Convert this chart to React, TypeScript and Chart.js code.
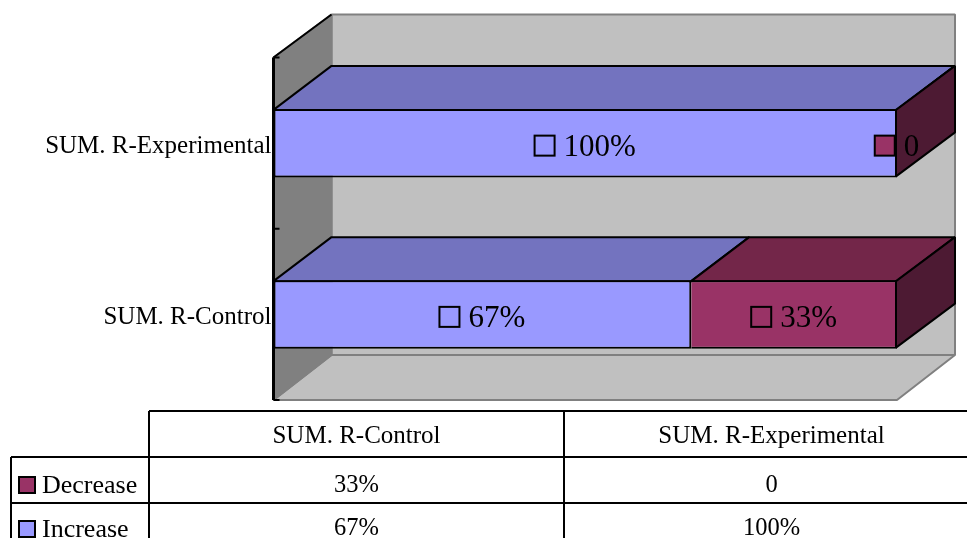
import React, { useEffect, useRef } from "react";
import { Chart, registerables } from "chart.js";

Chart.register(...registerables);

// Categories run bottom to top on the chart and left to right in the data table.
const categories = ["SUM. R-Control", "SUM. R-Experimental"];
const seriesNames = ["Increase", "Decrease"];
const increaseValues = [0.67, 1];
const decreaseValues = [0.33, 0];

const SERIF = '"Liberation Serif", "Times New Roman", serif';
const INCREASE_COLOR = "#9999FF";
const DECREASE_COLOR = "#993366";
const INCREASE_TOP = "#7373BF";
const DECREASE_TOP = "#732649";
const DECREASE_SIDE = "#4D1A33";

// Projection of the box depth, in pixels.
const DEPTH_X = 58;
const DEPTH_Y = 44;

const formatValue = (v: number) => (v === 0 ? "0" : `${Math.round(v * 100)}%`);

function polygon(ctx: CanvasRenderingContext2D, pts: number[][], fill: string, stroke: string, width: number) {
  ctx.beginPath();
  pts.forEach(([x, y], i) => (i ? ctx.lineTo(x, y) : ctx.moveTo(x, y)));
  ctx.closePath();
  ctx.fillStyle = fill;
  ctx.fill();
  ctx.strokeStyle = stroke;
  ctx.lineWidth = width;
  ctx.lineJoin = "bevel";
  ctx.stroke();
}

function line(ctx: CanvasRenderingContext2D, x1: number, y1: number, x2: number, y2: number, color = "#000", width = 2) {
  ctx.beginPath();
  ctx.moveTo(x1, y1);
  ctx.lineTo(x2, y2);
  ctx.strokeStyle = color;
  ctx.lineWidth = width;
  ctx.stroke();
}

// Back wall, side wall and floor, plus the top and end faces of each bar.
const boxPlugin = {
  id: "box3d",
  beforeDatasetsDraw(chart: any) {
    const { ctx, chartArea: a } = chart;
    const wallTop = a.top - DEPTH_Y + 1;
    const wallBottom = a.bottom - DEPTH_Y - 1;
    ctx.save();
    polygon(ctx, [[a.left + DEPTH_X, wallTop], [a.right + DEPTH_X, wallTop], [a.right + DEPTH_X, wallBottom], [a.left + DEPTH_X, wallBottom]], "#C0C0C0", "#808080", 2);
    polygon(ctx, [[a.left, a.bottom], [a.right, a.bottom], [a.right + DEPTH_X, wallBottom], [a.left + DEPTH_X, wallBottom]], "#C0C0C0", "#808080", 2);
    polygon(ctx, [[a.left, a.top], [a.left + DEPTH_X, wallTop], [a.left + DEPTH_X, wallBottom], [a.left, a.bottom]], "#808080", "#808080", 2);
    line(ctx, a.left, a.top, a.left + DEPTH_X, wallTop);
    line(ctx, a.left, a.top, a.left, a.bottom, "#000", 3);
    const yScale = chart.scales.y;
    const band = (a.bottom - a.top) / categories.length;
    for (let i = 0; i <= categories.length; i++) {
      const y = yScale.top + band * i;
      line(ctx, a.left, y, a.left + 6, y, "#000", 2);
    }

    const tops = [INCREASE_TOP, DECREASE_TOP];
    const lastDataset = chart.data.datasets.length - 1;
    chart.data.datasets.forEach((_: any, d: number) => {
      chart.getDatasetMeta(d).data.forEach((bar: any) => {
        const { x, y, base, height } = bar.getProps(["x", "y", "base", "height"], true);
        const t = y - height / 2 + 1;
        const b = y + height / 2 - 1;
        polygon(ctx, [[base, t], [x, t], [x + DEPTH_X, t - DEPTH_Y], [base + DEPTH_X, t - DEPTH_Y]], tops[d], "#000", 2);
        if (d === lastDataset) {
          polygon(ctx, [[x - 1, t], [x + DEPTH_X, t - DEPTH_Y], [x + DEPTH_X, b - DEPTH_Y], [x - 1, b]], DECREASE_SIDE, "#000", 2);
        }
      });
    });
    ctx.restore();
  },
  // Value labels, each with its series key in front of it.
  afterDatasetsDraw(chart: any) {
    const { ctx } = chart;
    const fills = [INCREASE_COLOR, DECREASE_COLOR];
    ctx.save();
    ctx.font = `31px ${SERIF}`;
    ctx.textBaseline = "alphabetic";
    ctx.textAlign = "left";
    chart.data.datasets.forEach((ds: any, d: number) => {
      chart.getDatasetMeta(d).data.forEach((bar: any, i: number) => {
        const { x, y, base } = bar.getProps(["x", "y", "base"], true);
        const text = formatValue(ds.data[i]);
        const w = ctx.measureText(text).width;
        const total = 20 + 9 + w;
        const left = (x + base) / 2 - total / 2;
        ctx.fillStyle = fills[d];
        ctx.strokeStyle = "#000";
        ctx.lineWidth = 2;
        ctx.fillRect(left, y - 7.5, 20, 20);
        ctx.strokeRect(left, y - 7.5, 20, 20);
        ctx.fillStyle = "#000";
        ctx.fillText(text, left + 29, y + 12.5);
      });
    });
    ctx.restore();
  },
  // Data table under the plot.
  afterDraw(chart: any) {
    const { ctx, width, height } = chart;
    const col0 = 11;
    const col1 = 149;
    const col2 = 564;
    const colWidth = col2 - col1;
    const rowTop = 411;
    const row1 = 457;
    const row2 = 503;
    ctx.save();
    line(ctx, col1, rowTop, width, rowTop);
    line(ctx, col0, row1, width, row1);
    line(ctx, col0, row2, width, row2);
    line(ctx, col0, row1, col0, height);
    line(ctx, col1, rowTop, col1, height);
    line(ctx, col2, rowTop, col2, height);

    ctx.fillStyle = "#000";
    ctx.textBaseline = "alphabetic";
    ctx.textAlign = "center";
    categories.forEach((name, i) => {
      const cx = col1 + colWidth * (i + 0.5);
      ctx.font = `25px ${SERIF}`;
      ctx.fillText(name, cx, 443);
      ctx.font = `24.5px ${SERIF}`;
      ctx.fillText(formatValue(decreaseValues[i]), cx, 492);
      ctx.fillText(formatValue(increaseValues[i]), cx, 535);
    });

    ctx.textAlign = "left";
    ctx.font = `26px ${SERIF}`;
    const rows = [
      { name: seriesNames[1], fill: DECREASE_COLOR, base: 493 },
      { name: seriesNames[0], fill: INCREASE_COLOR, base: 537 },
    ];
    rows.forEach((r) => {
      ctx.fillStyle = r.fill;
      ctx.strokeStyle = "#000";
      ctx.lineWidth = 2;
      ctx.fillRect(19, r.base - 16, 16, 16);
      ctx.strokeRect(19, r.base - 16, 16, 16);
      ctx.fillStyle = "#000";
      ctx.fillText(r.name, 42, r.base);
    });
    ctx.restore();
  },
};

export default function App() {
  const ref = useRef<HTMLCanvasElement>(null);

  useEffect(() => {
    const chart = new Chart(ref.current as HTMLCanvasElement, {
      type: "bar",
      data: {
        labels: categories,
        datasets: [
          {
            label: seriesNames[0],
            data: increaseValues,
            backgroundColor: INCREASE_COLOR,
            borderWidth: { left: 2, top: 2, bottom: 2, right: 2 },
          },
          {
            label: seriesNames[1],
            data: decreaseValues,
            backgroundColor: DECREASE_COLOR,
            borderWidth: { left: 0, top: 2, bottom: 2, right: 2 },
          },
        ],
      },
      plugins: [boxPlugin],
      options: {
        indexAxis: "y",
        responsive: false,
        animation: false,
        layout: { padding: { top: 57.5, bottom: 138, right: 70, left: 0 } },
        plugins: { legend: { display: false }, tooltip: { enabled: false }, title: { display: false } },
        elements: { bar: { borderColor: "#000", borderSkipped: false, inflateAmount: 0 } },
        datasets: { bar: { barPercentage: 1, categoryPercentage: 0.4 } },
        scales: {
          x: { stacked: true, min: 0, max: 1, display: false },
          y: {
            stacked: true,
            reverse: true,
            grid: { display: false, drawTicks: false },
            border: { display: false },
            ticks: { color: "#000", padding: 2, labelOffset: 3, font: { family: SERIF, size: 25 } },
            afterFit(scale: any) {
              scale.width = 273.5;
            },
          },
        },
      },
    } as any);
    return () => chart.destroy();
  }, []);

  return (
    <div style={{ position: "absolute", left: 0, top: 0, width: 967, height: 538, background: "#fff" }}>
      <canvas ref={ref} width={967} height={538} style={{ display: "block" }} />
    </div>
  );
}
